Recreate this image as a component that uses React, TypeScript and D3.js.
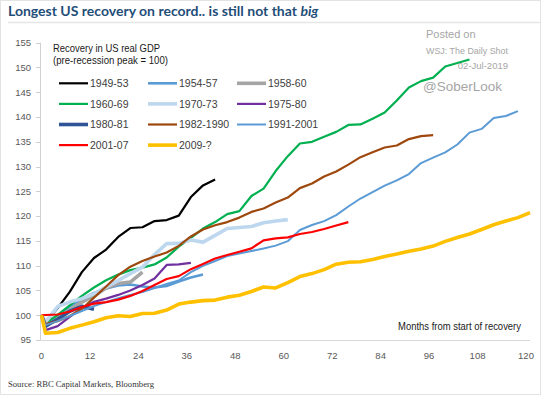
import React from 'react';
import * as d3 from 'd3';

// recovery paths, pre-recession peak = 100, first value is the peak,
// then quarterly readings from month 1 of the recovery
const s1949 = [100, 98.5, 101.45, 104.7, 108.7, 111.55, 113.25, 115.8, 117.6, 117.75, 119.0, 119.2, 120.1, 123.85, 126.2, 127.4];
const s1954 = [100, 97.6, 99.6, 101.8, 103.3, 104.5, 105.4, 106.0, 106.2, 105.8, 105.6, 105.9, 106.8, 107.6, 108.2];
const s1958 = [100, 97.8, 99.45, 101.05, 102.65, 103.9, 105.5, 106.4, 106.7, 108.7];
const s1960 = [100, 98.4, 100.05, 102.0, 103.9, 105.6, 107.05, 108.2, 109.1, 109.6, 110.25, 111.65, 113.85, 115.6, 117.5, 118.8, 120.4, 121.0, 124.05, 125.55, 129.1, 132.1, 134.65, 135.0, 136.0, 137.0, 138.4, 138.5, 139.65, 140.9, 143.35, 145.95, 147.25, 147.95, 150.2, 150.9, 151.6];
const s1970 = [100, 98.6, 101.75, 102.65, 103.35, 104.3, 105.7, 107.0, 108.4, 109.7, 112.25, 114.45, 114.5, 115.2, 114.75, 116.1, 117.5, 117.7, 117.9, 118.65, 119.0, 119.3];
const s1975 = [100, 97.0, 97.8, 99.65, 101.45, 102.7, 103.35, 104.1, 105.0, 106.1, 107.4, 110.15, 110.25, 110.55];
const s1980 = [100, 97.8, 99.2, 100.8, 101.8, 101.2];
const s1982 = [100, 98.2, 98.8, 99.85, 101.25, 103.55, 105.8, 108.1, 109.8, 110.95, 111.85, 112.65, 114.0, 115.9, 117.3, 118.15, 118.8, 119.7, 120.85, 121.55, 122.75, 123.75, 125.65, 126.6, 128.0, 129.0, 130.4, 131.9, 132.9, 133.85, 134.25, 135.55, 136.15, 136.35];
const s1991 = [100, 98.0, 98.8, 99.85, 100.85, 101.85, 102.65, 103.45, 104.1, 104.7, 105.5, 106.3, 107.0, 108.7, 109.95, 110.95, 111.95, 112.45, 112.95, 113.45, 114.05, 114.95, 117.2, 118.2, 119.0, 120.2, 121.95, 123.55, 124.85, 126.15, 127.2, 128.5, 130.7, 131.8, 132.85, 134.45, 136.85, 137.6, 139.8, 140.2, 141.2];
const s2001 = [100, 100.05, 100.15, 100.75, 101.65, 102.35, 102.65, 103.15, 103.9, 104.9, 106.1, 107.3, 107.9, 109.3, 110.35, 111.45, 112.15, 112.8, 113.5, 115.1, 115.5, 115.7, 116.4, 116.8, 117.4, 118.1, 118.8];
const s2009 = [100, 96.35, 96.5, 97.35, 98.0, 98.7, 99.5, 99.9, 99.75, 100.35, 100.4, 101.05, 102.25, 102.65, 102.95, 103.05, 103.65, 104.05, 104.8, 105.7, 105.5, 106.6, 107.8, 108.4, 109.2, 110.3, 110.7, 110.8, 111.25, 111.85, 112.35, 112.9, 113.35, 113.95, 114.9, 115.7, 116.4, 117.3, 118.25, 119.0, 119.7, 120.7];

const names = ['1949-53', '1954-57', '1958-60', '1960-69', '1970-73', '1975-80', '1980-81', '1982-1990', '1991-2001', '2001-07', '2009-?'];
const values = [s1949, s1954, s1958, s1960, s1970, s1975, s1980, s1982, s1991, s2001, s2009];
const colors = ['#000000', '#5B9BD5', '#A5A5A5', '#00B050', '#BDD7EE', '#7030A0', '#2F5597', '#9E480E', '#5B9BD5', '#FF0000', '#FFC000'];
const widths = [2.2, 2.6, 3.6, 2.2, 3.6, 2.2, 3.6, 2.2, 2, 2.2, 3.6];

const xTicks = [0, 12, 24, 36, 48, 60, 72, 84, 96, 108, 120];
const yTicks = [95, 100, 105, 110, 115, 120, 125, 130, 135, 140, 145, 150, 155];

const monthOf = (i: number) => (i === 0 ? 0 : 1 + 3 * (i - 1));

export default function App() {
  const x = d3.scaleLinear().domain([0, 120]).range([41.5, 526]);
  const y = d3.scaleLinear().domain([95, 155]).range([340, 42.7]);
  const line = d3.line<number>()
    .x((d, i) => x(monthOf(i)))
    .y(d => y(d));

  const axisFont = 'Liberation Sans, Arial, sans-serif';

  return (
    <svg width={541} height={395} style={{ display: 'block', position: 'absolute', left: 0, top: 0, background: '#fff' }}>
      <rect x={0.5} y={0.5} width={540} height={394} fill="#fff" stroke="#e3e3e3" />
      <text x={8} y={16} fontFamily="Lato, sans-serif" fontWeight={700} fontSize={14} fill="#1F4E79">
        Longest US recovery on record.. is still not that <tspan fontStyle="italic">big</tspan>
      </text>
      <line x1={8} x2={541} y1={22.5} y2={22.5} stroke="#e6e6e6" strokeWidth={1.5} />

      {/* axes */}
      <line x1={40.5} x2={40.5} y1={y(155)} y2={y(95)} stroke="#d0d0d0" />
      <line x1={40.5} x2={530} y1={y(95) + 0.5} y2={y(95) + 0.5} stroke="#d9d9d9" />
      {yTicks.map(t => (
        <g key={t}>
          <line x1={36} x2={40.5} y1={Math.round(y(t)) + 0.5} y2={Math.round(y(t)) + 0.5} stroke="#d0d0d0" />
          <text x={31} y={y(t)} dy="0.35em" textAnchor="end" fontFamily={axisFont} fontSize={9.5} fill="#595959">{t}</text>
        </g>
      ))}
      {xTicks.map(t => (
        <text key={t} x={x(t)} y={359} textAnchor="middle" fontFamily={axisFont} fontSize={9.5} fill="#595959">{t}</text>
      ))}
      <text x={398} y={330} fontFamily={axisFont} fontSize={11} fill="#1a1a1a" textLength={123} lengthAdjust="spacingAndGlyphs">
        Months from start of recovery
      </text>

      {/* lines */}
      {values.map((v, i) => (
        <path key={names[i]} d={line(v) || ''} fill="none" stroke={colors[i]} strokeWidth={widths[i]}
          strokeLinejoin="round" strokeLinecap="butt" />
      ))}

      {/* legend */}
      <text x={53} y={51.5} fontFamily={axisFont} fontSize={11} fill="#1a1a1a" textLength={107} lengthAdjust="spacingAndGlyphs">
        Recovery in US real GDP
      </text>
      <text x={53} y={63.5} fontFamily={axisFont} fontSize={11} fill="#1a1a1a" textLength={115} lengthAdjust="spacingAndGlyphs">
        (pre-recession peak  = 100)
      </text>
      {names.map((n, i) => {
        const col = i % 3;
        const row = Math.floor(i / 3);
        const lx = 59 + col * 89;
        const ly = 83.3 + row * 20.6;
        return (
          <g key={n}>
            <line x1={lx} x2={lx + 29} y1={ly} y2={ly} stroke={colors[i]} strokeWidth={widths[i]} />
            <text x={lx + 31} y={ly} dy="0.35em" fontFamily={axisFont} fontSize={10.5} fill="#404040">{n}</text>
          </g>
        );
      })}

      {/* watermark */}
      <text x={426} y={38} fontFamily={axisFont} fontSize={11} fill="#a6a6a6">Posted on</text>
      <text x={426} y={54} fontFamily={axisFont} fontSize={9.5} fill="#a6a6a6" textLength={82} lengthAdjust="spacingAndGlyphs">WSJ: The Daily Shot</text>
      <text x={508} y={69} textAnchor="end" fontFamily={axisFont} fontSize={9.5} fill="#a6a6a6">02-Jul-2019</text>
      <text x={423} y={91} fontFamily={axisFont} fontSize={13.5} fill="#a6a6a6">@SoberLook</text>

      <text x={8} y={387} fontFamily="Liberation Serif, Times New Roman, serif" fontSize={9} fill="#333"
        textLength={146} lengthAdjust="spacingAndGlyphs">
        Source: RBC Capital Markets, Bloomberg
      </text>
    </svg>
  );
}
